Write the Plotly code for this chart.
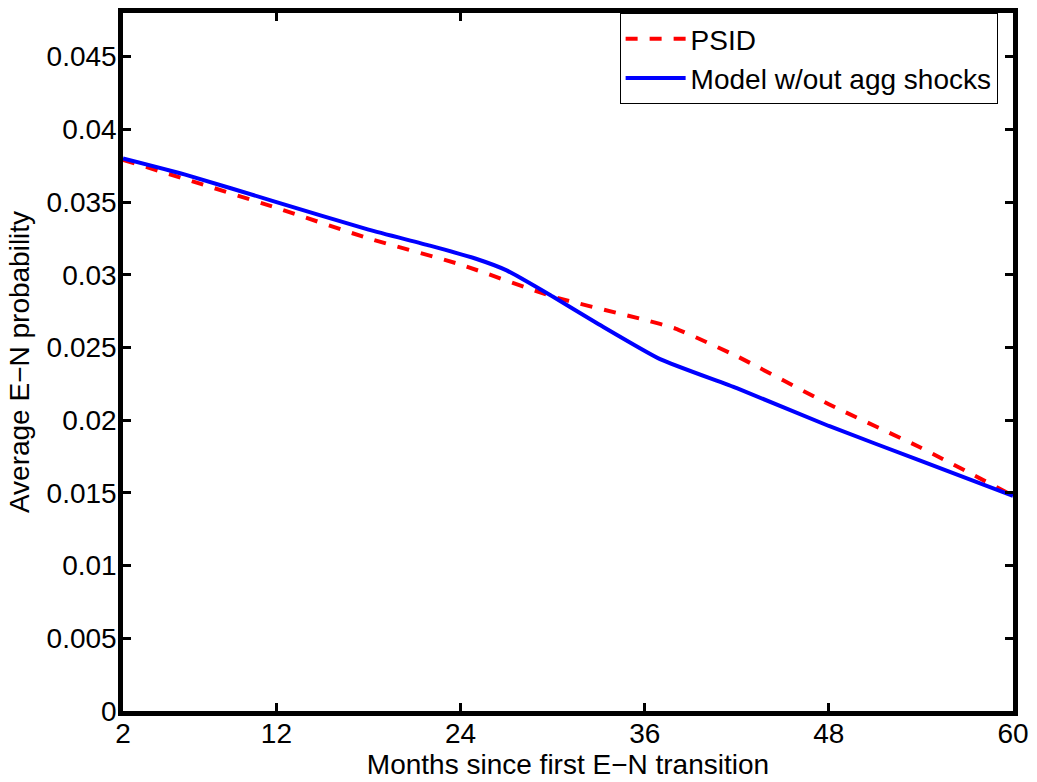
import plotly.graph_objects as go

psid_months = [2, 6, 12, 18, 24, 30, 36, 38, 42, 48, 54, 60]
psid_values = [0.0379, 0.0366, 0.0346, 0.0325, 0.0307, 0.0285, 0.0269, 0.0263, 0.0244, 0.0211, 0.0181, 0.0148]

model_months = [2, 6, 12, 18, 22, 25, 27, 30, 33, 37, 42, 48, 54, 60]
model_values = [0.0380, 0.0369, 0.0350, 0.0331, 0.0320, 0.0311, 0.0303, 0.0285, 0.0266, 0.0242, 0.0222, 0.0196, 0.0172, 0.0148]

x_ticks = [2, 12, 24, 36, 48, 60]
y_ticks = [0, 0.005, 0.01, 0.015, 0.02, 0.025, 0.03, 0.035, 0.04, 0.045]
y_tick_labels = ["0", "0.005", "0.01", "0.015", "0.02", "0.025", "0.03", "0.035", "0.04", "0.045"]

FONT = "Liberation Sans, Arial, sans-serif"
FS = 28

fig = go.Figure()
fig.add_trace(go.Scatter(
    x=psid_months, y=psid_values, mode="lines", name="PSID",
    line=dict(color="#ff0000", width=4, dash="dash", shape="spline", smoothing=0.5),
))
fig.add_trace(go.Scatter(
    x=model_months, y=model_values, mode="lines", name="Model w/out agg shocks",
    line=dict(color="#0000ff", width=4, shape="spline", smoothing=0.5),
))

axis_common = dict(
    showline=True, linecolor="black", linewidth=4.5, mirror="ticks",
    ticks="inside", ticklen=8, tickwidth=3, tickcolor="black",
    showgrid=False, zeroline=False,
    tickfont=dict(family=FONT, size=FS, color="black"),
)

fig.update_layout(
    width=1037, height=782,
    margin=dict(l=123, r=22, t=8, b=71),
    paper_bgcolor="white", plot_bgcolor="white",
    font=dict(family=FONT, size=FS, color="black"),
    xaxis=dict(
        range=[2, 60], tickvals=x_ticks, ticktext=[str(t) for t in x_ticks],
        ticklabelstandoff=-6,
        title=dict(text="Months since first E\u2212N transition", standoff=4,
                   font=dict(family=FONT, size=FS, color="black")),
        **axis_common,
    ),
    yaxis=dict(
        range=[0, 0.048], tickvals=y_ticks, ticktext=y_tick_labels,
        ticklabelstandoff=-4,
        title=dict(text="Average E\u2212N probability", standoff=10,
                   font=dict(family=FONT, size=FS, color="black")),
        **axis_common,
    ),
    legend=dict(
        x=0.558, y=1.0, xanchor="left", yanchor="top",
        bgcolor="white", bordercolor="black", borderwidth=1,
        font=dict(family=FONT, size=FS, color="black"),
        tracegroupgap=0, itemwidth=60,
    ),
    showlegend=True,
)

fig.write_html("out.html")
